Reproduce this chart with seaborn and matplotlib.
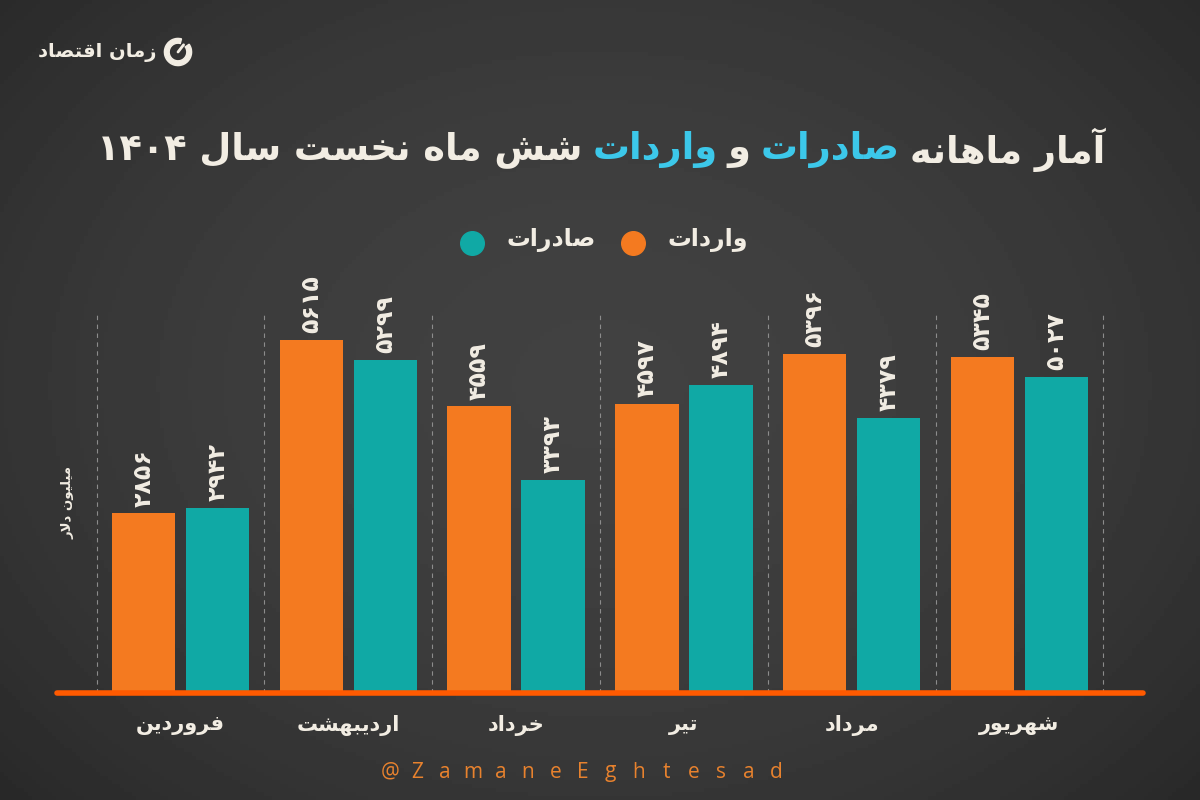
import re
import numpy as np
import pandas as pd
import matplotlib
matplotlib.use("Agg")
import matplotlib.pyplot as plt
from matplotlib.lines import Line2D
from matplotlib.patches import Wedge
import seaborn as sns

# داده‌ها (میلیون دلار)
months = ["فروردین", "اردیبهشت", "خرداد", "تیر", "مرداد", "شهریور"]
imports = [2856, 5615, 4559, 4597, 5396, 5345]   # واردات
exports = [2942, 5299, 3393, 4894, 4379, 5027]   # صادرات
series = ["واردات", "صادرات"]

ORANGE = "#F47A20"
TEAL = "#10A9A5"
CREAM = "#F2EDE3"
CYAN = "#3CC8EA"
LINE = "#FF5A00"

# --- shaping ساده برای متن فارسی (matplotlib خودش این کار را نمی‌کند) ---
FORMS = {
    "ا": ("\uFE8D", "\uFE8E", None, None),
    "آ": ("\uFE81", "\uFE82", None, None),
    "ب": ("\uFE8F", "\uFE90", "\uFE91", "\uFE92"),
    "ت": ("\uFE95", "\uFE96", "\uFE97", "\uFE98"),
    "خ": ("\uFEA5", "\uFEA6", "\uFEA7", "\uFEA8"),
    "د": ("\uFEA9", "\uFEAA", None, None),
    "ر": ("\uFEAD", "\uFEAE", None, None),
    "ز": ("\uFEAF", "\uFEB0", None, None),
    "س": ("\uFEB1", "\uFEB2", "\uFEB3", "\uFEB4"),
    "ش": ("\uFEB5", "\uFEB6", "\uFEB7", "\uFEB8"),
    "ص": ("\uFEB9", "\uFEBA", "\uFEBB", "\uFEBC"),
    "ف": ("\uFED1", "\uFED2", "\uFED3", "\uFED4"),
    "ق": ("\uFED5", "\uFED6", "\uFED7", "\uFED8"),
    "ل": ("\uFEDD", "\uFEDE", "\uFEDF", "\uFEE0"),
    "م": ("\uFEE1", "\uFEE2", "\uFEE3", "\uFEE4"),
    "ن": ("\uFEE5", "\uFEE6", "\uFEE7", "\uFEE8"),
    "ه": ("\uFEE9", "\uFEEA", "\uFEEB", "\uFEEC"),
    "و": ("\uFEED", "\uFEEE", None, None),
    "ی": ("\uFBFC", "\uFBFD", "\uFBFE", "\uFBFF"),
    "\uE000": ("\uFEFB", "\uFEFC", None, None),  # لا
    "\uE001": ("\uFEF5", "\uFEF6", None, None),  # لآ
}
DIG = "0123456789\u06F0\u06F1\u06F2\u06F3\u06F4\u06F5\u06F6\u06F7\u06F8\u06F9"


def fa(s):
    s = s.replace("لا", "\uE000").replace("لآ", "\uE001")
    out = []
    for i, c in enumerate(s):
        if c not in FORMS:
            out.append(c)
            continue
        iso, fin, ini, med = FORMS[c]
        p = s[i - 1] if i > 0 else ""
        q = s[i + 1] if i + 1 < len(s) else ""
        a = p in FORMS and FORMS[p][2] is not None
        b = q in FORMS and ini is not None
        out.append(med if (a and b) else fin if a else ini if b else iso)
    t = "".join(out)
    runs = re.findall(f"[{DIG}]+|[^{DIG}]+", t)
    return "".join(r if r[0] in DIG else r[::-1] for r in reversed(runs))


def fa_num(v):
    return str(v).translate(str.maketrans("0123456789", "۰۱۲۳۴۵۶۷۸۹"))


df = pd.DataFrame({
    "month": months * 2,
    "value": imports + exports,
    "type": [series[0]] * len(months) + [series[1]] * len(months),
})

sns.set_theme(style="dark")
plt.rcParams["font.family"] = ["DejaVu Sans"]

fig = plt.figure(figsize=(12, 8), dpi=100)
fig.patch.set_facecolor("#363636")

# پس‌زمینه تخته‌سیاهی
bg = fig.add_axes([0, 0, 1, 1], zorder=-5)
gx, gy = np.meshgrid(np.linspace(0, 1, 300), np.linspace(0, 1, 200))
rr = np.sqrt(((gx - 0.5) / 0.62) ** 2 + ((gy - 0.48) / 0.7) ** 2)
bg.imshow(0.255 - 0.08 * np.clip(rr, 0, 1.2) ** 2, cmap="gray", vmin=0, vmax=1,
          aspect="auto", extent=[0, 1, 0, 1])
bg.axis("off")

ax = fig.add_axes([57 / 1200, 1 - 693 / 800, 1086 / 1200, 380 / 800])
ax.set_facecolor("none")
ytop = 6046

ax.vlines(np.arange(-0.5, len(months), 1), 0, ytop, colors="#8c8c8c",
          linestyles=(0, (4, 4)), lw=0.8, zorder=0)

sns.barplot(data=df, x="month", y="value", hue="type", order=months,
            hue_order=series, palette=[ORANGE, TEAL], saturation=1,
            width=0.882, gap=0.143, legend=False, ax=ax, zorder=2,
            edgecolor="none", linewidth=0)

for cont, vals in zip(ax.containers, [imports, exports]):
    ax.bar_label(cont, labels=[fa_num(v) for v in vals], rotation=90, padding=5,
                 color=CREAM, fontsize=17, fontweight="bold")

ax.axhline(0, color=LINE, lw=4, zorder=3, clip_on=False)
ax.set_xlim(-0.736, 5.736)
ax.set_ylim(0, ytop)
ax.set_yticks([])
ax.set_xticks(range(len(months)))
ax.set_xticklabels([fa(m) for m in months])
ax.tick_params(axis="x", length=0, pad=16, labelcolor=CREAM, labelsize=15)
for lab in ax.get_xticklabels():
    lab.set_fontweight("bold")
ax.set_xlabel("")
ax.set_ylabel("")
for sp in ax.spines.values():
    sp.set_visible(False)
ax.grid(False)

ax.text(-0.67, 3030, fa("میلیون دلار"), rotation=90, ha="center", va="center",
        color=CREAM, fontsize=9.5, fontweight="bold")

# عنوان چندرنگ
r = fig.canvas.get_renderer()
parts = [("آمار ماهانه", CREAM), ("صادرات", CYAN), ("و", CREAM), ("واردات", CYAN),
         ("شش ماه نخست سال ۱۴۰۴", CREAM)]
fs = 26.5
texts = [fig.text(0, 1 - 150 / 800, fa(s), color=c, fontsize=fs, fontweight="bold",
                  ha="left", va="center") for s, c in parts]
widths = [t.get_window_extent(r).width for t in texts]
gap = 10
x = 601 + (sum(widths) + gap * (len(parts) - 1)) / 2
for t, w in zip(texts, widths):
    t.set_x((x - w) / 1200)
    x -= w + gap

# راهنما
for xd, xt, lab, col in [(472, 551, series[1], TEAL), (633, 708, series[0], ORANGE)]:
    fig.add_artist(Line2D([xd / 1200], [1 - 243 / 800], marker="o", ms=17, color=col,
                          transform=fig.transFigure))
    fig.text(xt / 1200, 1 - 240 / 800, fa(lab), color=CREAM, fontsize=17,
             fontweight="bold", ha="center", va="center")

# لوگو
fig.text(97 / 1200, 1 - 52 / 800, fa("زمان اقتصاد"), color=CREAM, fontsize=14,
         fontweight="bold", ha="center", va="center")
lax = fig.add_axes([162 / 1200, 1 - 68 / 800, 32 / 1200, 32 / 800])
lax.set_xlim(-1, 1)
lax.set_ylim(-1, 1)
lax.add_patch(Wedge((0, 0), 0.85, 75, 35, width=0.3, color=CREAM))
lax.plot([0, 0.35], [0, 0.45], color=CREAM, lw=2, solid_capstyle="round")
lax.axis("off")

# واترمارک
handle = "@ZamaneEghtesad"
for i, ch in enumerate(handle):
    fig.text((390 + i * 27.6) / 1200, 1 - 772 / 800, ch, color="#E8822E",
             fontsize=15, family="Open Sans", ha="center", va="center")

fig.savefig("out.png", dpi=100, facecolor=fig.get_facecolor())
